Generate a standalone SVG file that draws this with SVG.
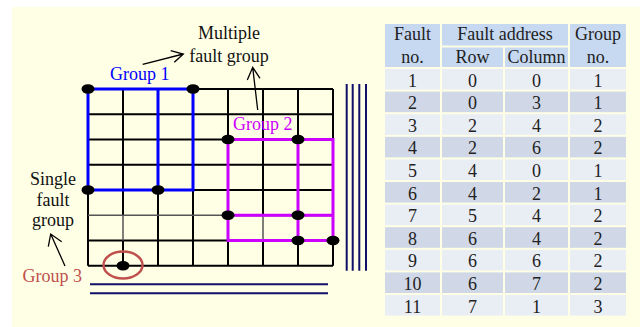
<svg xmlns="http://www.w3.org/2000/svg" width="640" height="327" viewBox="0 0 640 327" font-family="Liberation Serif, serif">
<defs>
<style>
text{font-family:'Liberation Serif',serif;font-size:18px;fill:#111}
.t{text-anchor:middle;fill:#222}
.g{stroke:#000;stroke-width:2;fill:none}
.gl{stroke:#555;stroke-width:1.5;fill:none}
.b{stroke:#0000ff;stroke-width:3;fill:none}
.m{stroke:#cc00ff;stroke-width:3;fill:none}
.n{stroke:#10106a;stroke-width:2}
.d{fill:#000}
.ar{stroke:#000;stroke-width:1.3;fill:none}
.h{fill:#c6d9f1}
.o{fill:#e9edf4}
.e{fill:#d0d8e8}
</style>
</defs>
<rect x="12" y="7" width="628" height="320" fill="#ffffe5"/>

<g id="grid">
<path class="g" d="M88 89H333M88 114.25H333M88 139.5H333M88 164.75H333M88 190H333M228 215.25H333M88 240.5H333M88 265.75H333"/>
<path class="g" d="M88 89V265.75M123 89V215.25M123 240.5V265.75M158 89V265.75M193 89V265.75M228 89V265.75M263 89V215.25M263 240.5V265.75M298 89V265.75M333 89V265.75"/>
<path class="gl" d="M88 215.25H228M123 215.25V240.5M263 215.25V240.5"/>
</g>

<g id="group1">
<path class="b" d="M88 89H193V190H88ZM158 89V190"/>
<text x="110" y="80" style="fill:#0000ff">Group 1</text>
</g>

<g id="group2">
<path class="m" d="M228 139.5H333V240.5H228ZM298 139.5V240.5M228 215.25H333"/>
<text x="233" y="130" style="fill:#cc00ff">Group 2</text>
</g>

<g id="dots">
<ellipse class="d" cx="88" cy="89" rx="6.5" ry="4.8"/>
<ellipse class="d" cx="193" cy="89" rx="6.5" ry="4.8"/>
<ellipse class="d" cx="88" cy="190" rx="6.5" ry="4.8"/>
<ellipse class="d" cx="158" cy="190" rx="6.5" ry="4.8"/>
<ellipse class="d" cx="228" cy="139.5" rx="6.5" ry="4.8"/>
<ellipse class="d" cx="298" cy="139.5" rx="6.5" ry="4.8"/>
<ellipse class="d" cx="228" cy="215.25" rx="6.5" ry="4.8"/>
<ellipse class="d" cx="298" cy="215.25" rx="6.5" ry="4.8"/>
<ellipse class="d" cx="298" cy="240.5" rx="6.5" ry="4.8"/>
<ellipse class="d" cx="333" cy="240.5" rx="6.5" ry="4.8"/>
<ellipse class="d" cx="123" cy="265.75" rx="6.5" ry="4.8"/>
</g>

<g id="group3">
<ellipse cx="123" cy="265" rx="19.5" ry="13.5" fill="none" stroke="#c0504d" stroke-width="2.5"/>
<text x="22.5" y="281.5" style="fill:#c0504d">Group 3</text>
</g>

<g id="lines">
<path class="n" d="M346.7 84V270.7M352.7 84V270.7M359.3 84V270.7M366 84V270.7"/>
<path class="n" d="M90 284.3H328M90 293.3H328"/>
</g>

<g id="labels">
<text x="229" y="39" class="t" style="fill:#111">Multiple</text>
<text x="229" y="62" class="t" style="fill:#111">fault group</text>
<text x="53" y="185" class="t" style="fill:#111">Single</text>
<text x="53" y="206" class="t" style="fill:#111">fault</text>
<text x="53" y="226" class="t" style="fill:#111">group</text>
</g>

<g id="connectors">
<path class="ar" d="M142.7 64.3L183.3 54M170.7 50.7L183.3 54L174.3 62.3"/>
<path class="ar" d="M257.7 110L252.7 67.3M247.3 80L252.7 67.3L260 78.3"/>
<path class="ar" d="M65 266L50.7 234M48.3 246.7L50.7 234L61.7 241.7"/>
</g>

<g id="table">
<rect class="h" x="385" y="24" width="55" height="43"/>
<rect class="h" x="442" y="24" width="126" height="21.5"/>
<rect class="h" x="442" y="47.5" width="61" height="19.5"/>
<rect class="h" x="505" y="47.5" width="63" height="19.5"/>
<rect class="h" x="570" y="24" width="56" height="43"/>
<text x="412.5" y="40" class="t">Fault</text>
<text x="412.5" y="63" class="t">no.</text>
<text x="505" y="40" class="t">Fault address</text>
<text x="472.5" y="63" class="t">Row</text>
<text x="536.5" y="63" class="t">Column</text>
<text x="598" y="40" class="t">Group</text>
<text x="598" y="63" class="t">no.</text>

<g id="r1"><rect class="o" x="385" y="69" width="55" height="20.6"/><rect class="o" x="442" y="69" width="61" height="20.6"/><rect class="o" x="505" y="69" width="63" height="20.6"/><rect class="o" x="570" y="69" width="56" height="20.6"/>
<text x="412.5" y="86.5" class="t">1</text><text x="472.5" y="86.5" class="t">0</text><text x="536.5" y="86.5" class="t">0</text><text x="598" y="86.5" class="t">1</text></g>
<g id="r2"><rect class="e" x="385" y="91.6" width="55" height="20.6"/><rect class="e" x="442" y="91.6" width="61" height="20.6"/><rect class="e" x="505" y="91.6" width="63" height="20.6"/><rect class="e" x="570" y="91.6" width="56" height="20.6"/>
<text x="412.5" y="109.1" class="t">2</text><text x="472.5" y="109.1" class="t">0</text><text x="536.5" y="109.1" class="t">3</text><text x="598" y="109.1" class="t">1</text></g>
<g id="r3"><rect class="o" x="385" y="114.2" width="55" height="20.6"/><rect class="o" x="442" y="114.2" width="61" height="20.6"/><rect class="o" x="505" y="114.2" width="63" height="20.6"/><rect class="o" x="570" y="114.2" width="56" height="20.6"/>
<text x="412.5" y="131.7" class="t">3</text><text x="472.5" y="131.7" class="t">2</text><text x="536.5" y="131.7" class="t">4</text><text x="598" y="131.7" class="t">2</text></g>
<g id="r4"><rect class="e" x="385" y="136.8" width="55" height="20.6"/><rect class="e" x="442" y="136.8" width="61" height="20.6"/><rect class="e" x="505" y="136.8" width="63" height="20.6"/><rect class="e" x="570" y="136.8" width="56" height="20.6"/>
<text x="412.5" y="154.3" class="t">4</text><text x="472.5" y="154.3" class="t">2</text><text x="536.5" y="154.3" class="t">6</text><text x="598" y="154.3" class="t">2</text></g>
<g id="r5"><rect class="o" x="385" y="159.4" width="55" height="20.6"/><rect class="o" x="442" y="159.4" width="61" height="20.6"/><rect class="o" x="505" y="159.4" width="63" height="20.6"/><rect class="o" x="570" y="159.4" width="56" height="20.6"/>
<text x="412.5" y="176.9" class="t">5</text><text x="472.5" y="176.9" class="t">4</text><text x="536.5" y="176.9" class="t">0</text><text x="598" y="176.9" class="t">1</text></g>
<g id="r6"><rect class="e" x="385" y="182" width="55" height="20.6"/><rect class="e" x="442" y="182" width="61" height="20.6"/><rect class="e" x="505" y="182" width="63" height="20.6"/><rect class="e" x="570" y="182" width="56" height="20.6"/>
<text x="412.5" y="199.5" class="t">6</text><text x="472.5" y="199.5" class="t">4</text><text x="536.5" y="199.5" class="t">2</text><text x="598" y="199.5" class="t">1</text></g>
<g id="r7"><rect class="o" x="385" y="204.6" width="55" height="20.6"/><rect class="o" x="442" y="204.6" width="61" height="20.6"/><rect class="o" x="505" y="204.6" width="63" height="20.6"/><rect class="o" x="570" y="204.6" width="56" height="20.6"/>
<text x="412.5" y="222.1" class="t">7</text><text x="472.5" y="222.1" class="t">5</text><text x="536.5" y="222.1" class="t">4</text><text x="598" y="222.1" class="t">2</text></g>
<g id="r8"><rect class="e" x="385" y="227.2" width="55" height="20.6"/><rect class="e" x="442" y="227.2" width="61" height="20.6"/><rect class="e" x="505" y="227.2" width="63" height="20.6"/><rect class="e" x="570" y="227.2" width="56" height="20.6"/>
<text x="412.5" y="244.7" class="t">8</text><text x="472.5" y="244.7" class="t">6</text><text x="536.5" y="244.7" class="t">4</text><text x="598" y="244.7" class="t">2</text></g>
<g id="r9"><rect class="o" x="385" y="249.8" width="55" height="20.6"/><rect class="o" x="442" y="249.8" width="61" height="20.6"/><rect class="o" x="505" y="249.8" width="63" height="20.6"/><rect class="o" x="570" y="249.8" width="56" height="20.6"/>
<text x="412.5" y="267.3" class="t">9</text><text x="472.5" y="267.3" class="t">6</text><text x="536.5" y="267.3" class="t">6</text><text x="598" y="267.3" class="t">2</text></g>
<g id="r10"><rect class="e" x="385" y="272.4" width="55" height="20.6"/><rect class="e" x="442" y="272.4" width="61" height="20.6"/><rect class="e" x="505" y="272.4" width="63" height="20.6"/><rect class="e" x="570" y="272.4" width="56" height="20.6"/>
<text x="412.5" y="289.9" class="t">10</text><text x="472.5" y="289.9" class="t">6</text><text x="536.5" y="289.9" class="t">7</text><text x="598" y="289.9" class="t">2</text></g>
<g id="r11"><rect class="o" x="385" y="295" width="55" height="20.6"/><rect class="o" x="442" y="295" width="61" height="20.6"/><rect class="o" x="505" y="295" width="63" height="20.6"/><rect class="o" x="570" y="295" width="56" height="20.6"/>
<text x="412.5" y="312.5" class="t">11</text><text x="472.5" y="312.5" class="t">7</text><text x="536.5" y="312.5" class="t">1</text><text x="598" y="312.5" class="t">3</text></g>
</g>
</svg>
